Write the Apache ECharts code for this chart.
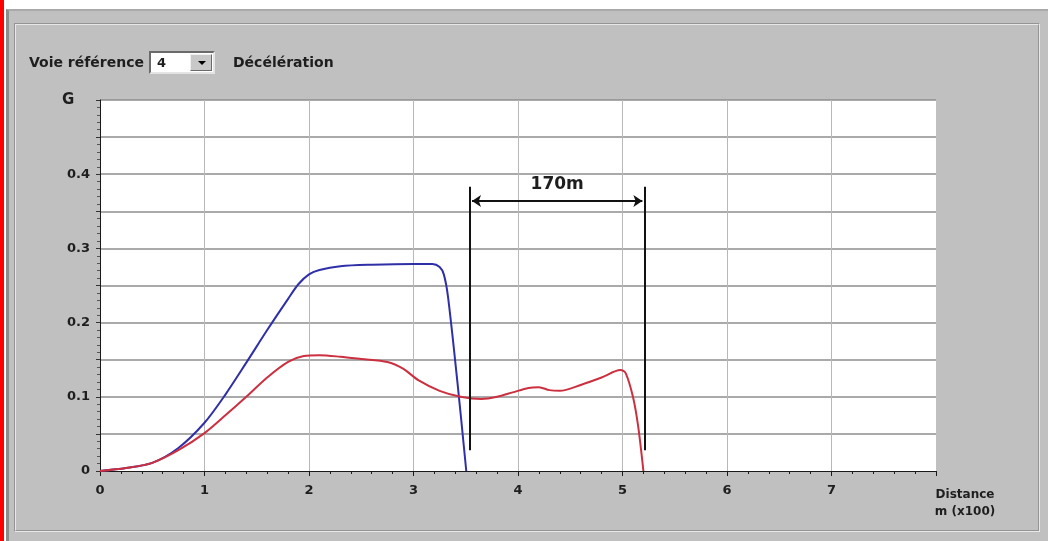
<!DOCTYPE html>
<html>
<head>
<meta charset="utf-8">
<title>Décélération</title>
<script src="https://cdn.jsdelivr.net/npm/echarts@6/dist/echarts.min.js"></script>
<style>
  html, body { margin: 0; padding: 0; background: #fff; width: 1048px; height: 541px; overflow: hidden; font-family: "DejaVu Sans", sans-serif; }
  #redbar { position: absolute; left: 0; top: 0; width: 4px; height: 541px; background: #f00; }
  #outer { position: absolute; left: 6px; top: 9px; width: 1042px; height: 532px; background: #c0c0c0;
           box-sizing: border-box; border-left: 3px solid #8c8c8c; border-top: 2px solid #a9a9a9; }
  #inner { position: absolute; left: 14px; top: 23px; width: 1026px; height: 509px; box-sizing: border-box;
           border: 2px groove #e8e8e8; }
  #header { position: absolute; left: 29px; top: 51px; height: 24px; font-weight: bold; font-size: 14px; color: #1e1e1e; z-index: 2; }
  #header span { position: absolute; top: 3px; white-space: nowrap; }
  #combo { position: absolute; left: 120px; top: 0; width: 66px; height: 23px; box-sizing: border-box; background: #fff;
           border: 2px solid; border-color: #6a6a6a #e4e4e4 #e4e4e4 #6a6a6a; }
  #combo b { position: absolute; left: 6px; top: 2px; font-size: 13px; }
  #combo i { position: absolute; right: 1px; top: 1px; width: 22px; height: 17px; background: #c8c8c8; box-sizing: border-box;
             border: 1px solid; border-color: #f0f0f0 #6a6a6a #6a6a6a #f0f0f0; }
  #combo i:after { content: ""; position: absolute; left: 7px; top: 6px; border-left: 4px solid transparent; border-right: 4px solid transparent; border-top: 4px solid #000; }
  #main { position: absolute; left: 0; top: 0; width: 1048px; height: 541px; z-index: 1; }
</style>
</head>
<body>
<div id="redbar"></div>
<div id="outer"></div>
<div id="inner"></div>
<div id="header">
  <span style="left:0">Voie référence</span>
  <div id="combo"><b>4</b><i></i></div>
  <span style="left:204px">Décélération</span>
</div>
<div id="main"></div>
<script>
// distance (x100 m) / deceleration (G)
var distBlue = [0, 0.25, 0.5, 0.75, 1.0, 1.2, 1.4, 1.6, 1.8, 1.9, 2.0, 2.1, 2.3, 2.6, 3.0, 3.18, 3.25, 3.29, 3.33, 3.42, 3.505];
var gBlue    = [0, 0.004, 0.011, 0.031, 0.065, 0.103, 0.146, 0.19, 0.232, 0.252, 0.265, 0.271, 0.276, 0.278, 0.279, 0.279, 0.275, 0.265, 0.235, 0.12, 0];

var distRed = [0, 0.25, 0.5, 0.75, 1.0, 1.2, 1.4, 1.6, 1.8, 1.95, 2.1, 2.3, 2.5, 2.75, 2.9, 3.05, 3.25, 3.45, 3.65, 3.8, 3.95, 4.1, 4.2, 4.3, 4.4, 4.6, 4.8, 4.98, 5.03, 5.1, 5.15, 5.2];
var gRed    = [0, 0.004, 0.011, 0.028, 0.051, 0.075, 0.1, 0.126, 0.147, 0.155, 0.156, 0.154, 0.151, 0.147, 0.138, 0.122, 0.108, 0.1, 0.097, 0.1, 0.106, 0.112, 0.113, 0.109, 0.108, 0.116, 0.126, 0.136, 0.132, 0.1, 0.06, 0];

// the two vertical markers and the 170 m span between them
var markerX = [3.535, 5.21];
var markerG = [0.383, 0.028];
var spanX = [3.56, 5.19];
var spanG = 0.364;
var spanLabel = '170m';

var xLabels = ['0', '1', '2', '3', '4', '5', '6', '7'];
var yLabels = { '0': '0', '10': '0.1', '20': '0.2', '30': '0.3', '40': '0.4' };

function pairs(xs, ys) {
  var out = [];
  for (var i = 0; i < xs.length; i++) out.push([xs[i], ys[i]]);
  return out;
}

var myChart = echarts.init(document.getElementById('main'));
var labelFont = { fontFamily: 'DejaVu Sans', fontWeight: 'bold', fontSize: 13, color: '#1e1e1e' };

var option = {
  animation: false,
  backgroundColor: 'transparent',
  grid: { left: 100, top: 100, width: 836, height: 371, show: true, backgroundColor: '#fff', borderWidth: 0 },
  xAxis: {
    type: 'value', min: 0, max: 8, interval: 1,
    axisLine: { lineStyle: { color: '#1a1a1a', width: 1 } },
    axisTick: { length: 5, lineStyle: { color: '#1a1a1a' } },
    minorTick: { show: true, splitNumber: 5, length: 3, lineStyle: { color: '#1a1a1a' } },
    splitLine: { show: true, showMinLine: false, showMaxLine: false, lineStyle: { color: '#b8b8b8', width: 1 } },
    axisLabel: Object.assign({ margin: 13, formatter: function (v) { return xLabels[v] || ''; } }, labelFont)
  },
  yAxis: {
    type: 'value', min: 0, max: 0.5, interval: 0.05,
    axisLine: { lineStyle: { color: '#1a1a1a', width: 1 } },
    axisTick: { length: 4, lineStyle: { color: '#333' } },
    minorTick: { show: true, splitNumber: 5, length: 3, lineStyle: { color: '#555' } },
    splitLine: { show: true, showMinLine: false, lineStyle: { color: '#8e8e8e', width: 1.5 } },
    axisLabel: Object.assign({ margin: 10, formatter: function (v) { return yLabels[String(Math.round(v * 100))] || ''; } }, labelFont)
  },
  graphic: [
    { type: 'text', left: 62, top: 93, style: { text: 'G', font: 'bold 15px "DejaVu Sans"', fill: '#1e1e1e' } },
    { type: 'text', x: 965, y: 486, style: { text: 'Distance\nm (x100)', align: 'center', font: 'bold 12px "DejaVu Sans"', fill: '#1e1e1e', lineHeight: 17 } }
  ],
  series: [
    {
      name: 'Voie 4', type: 'line', data: pairs(distBlue, gBlue), showSymbol: false,
      smooth: 0.3, lineStyle: { color: '#2f2fa8', width: 2 }, z: 3
    },
    {
      name: 'Référence', type: 'line', data: pairs(distRed, gRed), showSymbol: false,
      smooth: 0.3, lineStyle: { color: '#cc3040', width: 2 }, z: 3
    },
    {
      type: 'lines', coordinateSystem: 'cartesian2d', z: 4,
      lineStyle: { color: '#111', width: 2, opacity: 1 },
      data: markerX.map(function (x) { return { coords: [[x, markerG[0]], [x, markerG[1]]] }; })
    },
    {
      type: 'lines', coordinateSystem: 'cartesian2d', z: 4,
      symbol: ['arrow', 'arrow'], symbolSize: 9,
      lineStyle: { color: '#111', width: 2, opacity: 1 },
      label: { show: true, position: 'middle', distance: 8, formatter: spanLabel, fontFamily: 'DejaVu Sans', fontWeight: 'bold', fontSize: 17, color: '#1e1e1e' },
      data: [{ coords: [[spanX[0], spanG], [spanX[1], spanG]] }]
    }
  ]
};
myChart.setOption(option);
</script>
</body>
</html>
